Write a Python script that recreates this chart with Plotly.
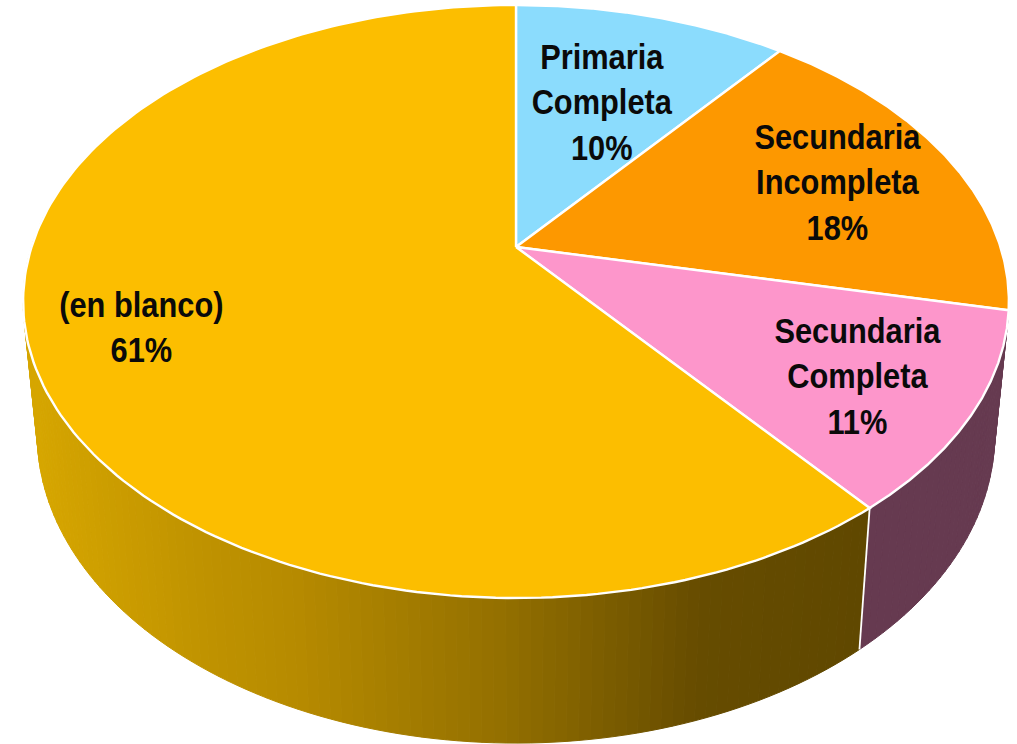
import numpy as np
import plotly.graph_objects as go

# --- data ---
categories = ["Primaria<br>Completa", "Secundaria<br>Incompleta", "Secundaria<br>Completa", "(en blanco)"]
shares = [10.7, 17.7, 10.85, 60.75]
percent_labels = ["10%", "18%", "11%", "61%"]
top_colors = ["#8BDCFD", "#FD9800", "#FD96CB", "#FCBE00"]

# --- layout / styling (pixel space) ---
W, H = 1017, 744
CX = 516
TILT = 0.1838                     # perspective strength
TOP = dict(cy=247, a=484.5, b=286.5)
BASE = dict(cy=378, a=470.5, b=298.0)
label_xy = [(602, 102), (837, 182), (857, 376), (141, 327)]
FONT = "'Liberation Sans', Arial, sans-serif"
WALL_MAROON = "#663A50"
GOLD_X = [36, 200, 300, 500, 700, 860]
GOLD_R = [214, 192, 182, 148, 102, 96]
GOLD_G = [166, 147, 138, 112, 76, 72]


def project(theta, disc, r=1.0):
    u, v = r * np.sin(theta), r * np.cos(theta)
    d = 1 + TILT * v
    return CX + disc["a"] * u / d, disc["cy"] - disc["b"] * v / d


def wall_gold(x):
    return f"rgb({np.interp(x, GOLD_X, GOLD_R):.0f},{np.interp(x, GOLD_X, GOLD_G):.0f},0)"


edges = np.cumsum([0] + shares) / sum(shares) * 2 * np.pi
fig = go.Figure()

# side walls: maroon for slice 3, graded gold for slice 4
def add_wall(t0, t1, color_fn):
    steps = max(2, int((t1 - t0) / np.radians(1.2)))
    ts = np.linspace(t0, t1, steps + 1)
    for a, b in zip(ts[:-1], ts[1:]):
        tq = np.array([a, b])
        x1, y1 = project(tq, TOP)
        x2, y2 = project(tq[::-1], BASE)
        xs = np.r_[x1, x2, x1[0]]
        ys = np.r_[y1, y2, y1[0]]
        c = color_fn(xs.mean())
        fig.add_trace(go.Scatter(x=xs, y=ys, mode="lines", fill="toself", fillcolor=c,
                                 line=dict(color=c, width=1), hoverinfo="skip", showlegend=False))

add_wall(edges[2], edges[3], lambda x: WALL_MAROON)
add_wall(edges[3], np.radians(300), wall_gold)

# white seam between the two visible walls
sx, sy = zip(project(edges[3], TOP), project(edges[3], BASE))
fig.add_trace(go.Scatter(x=sx, y=sy, mode="lines", line=dict(color="white", width=1.8),
                         hoverinfo="skip", showlegend=False))

# top face slices
for i, col in enumerate(top_colors):
    th = np.linspace(edges[i], edges[i + 1], 200)
    x, y = project(th, TOP)
    xs = np.r_[CX, x, CX]
    ys = np.r_[TOP["cy"], y, TOP["cy"]]
    fig.add_trace(go.Scatter(x=xs, y=ys, mode="lines", fill="toself", fillcolor=col,
                             line=dict(color="white", width=2.4), hoverinfo="skip", showlegend=False))

annotations = [
    dict(x=lx, y=ly, xref="x", yref="y", showarrow=False, xanchor="center", yanchor="middle",
         text=f"<b>{name}<br>{pct}</b>", align="center",
         font=dict(family=FONT, size=35, color="#0A0A0A"))
    for name, pct, (lx, ly) in zip(categories, percent_labels, label_xy)
]

fig.update_layout(
    width=W, height=H, margin=dict(l=0, r=0, t=0, b=0),
    paper_bgcolor="white", plot_bgcolor="white", showlegend=False,
    xaxis=dict(range=[0, W], visible=False, fixedrange=True),
    yaxis=dict(range=[H, 0], visible=False, fixedrange=True),
    annotations=annotations,
)
# condense the labels horizontally, as no narrow bold face is installed
squeeze = """
document.body.style.margin='0';document.body.style.overflow='hidden';
document.querySelectorAll('text.annotation-text').forEach(function(t){
  t.style.transformBox='fill-box';t.style.transformOrigin='center';t.style.transform='scaleX(0.88)';
});
"""
fig.write_html("out.html", config={"displayModeBar": False}, post_script=squeeze)
